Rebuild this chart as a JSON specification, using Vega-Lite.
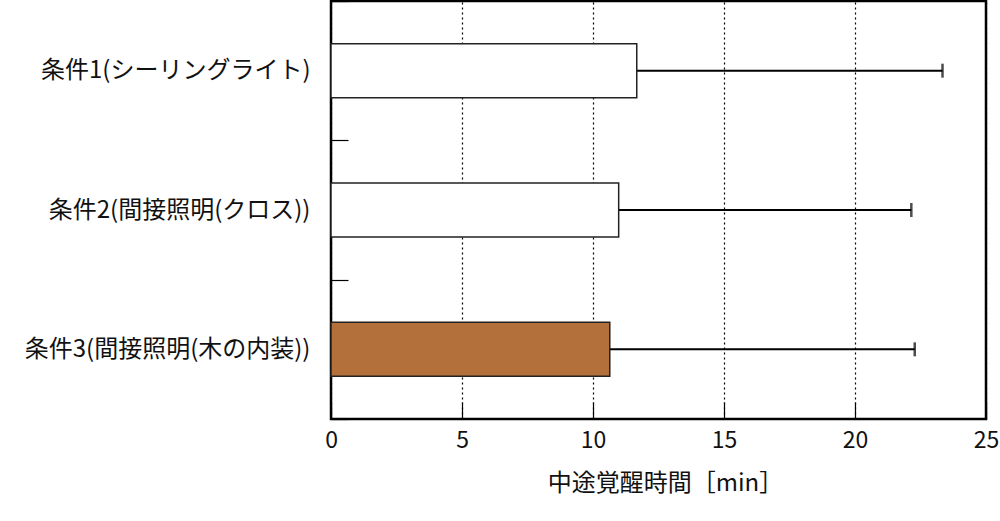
{
  "$schema": "https://vega.github.io/schema/vega-lite/v6.json",
  "autosize": "none",
  "width": 655,
  "height": 418,
  "padding": {"left": 331, "top": 1, "right": 14, "bottom": 102},
  "background": "#ffffff",
  "data": {
    "values": [
      {"cond": "条件1(シーリングライト)", "mean": 11.67, "upper": 23.34},
      {"cond": "条件2(間接照明(クロス))", "mean": 10.98, "upper": 22.15},
      {"cond": "条件3(間接照明(木の内装))", "mean": 10.64, "upper": 22.28}
    ]
  },
  "encoding": {
    "y": {
      "field": "cond", "type": "nominal", "sort": null, "title": null,
      "scale": {"paddingInner": 0, "paddingOuter": 0},
      "axis": {
        "domain": false, "tickBand": "extent", "tickSize": -17, "tickColor": "#000000", "tickWidth": 1.2,
        "labelFontSize": 24, "labelColor": "#111111", "labelPadding": 38, "labelLimit": 400
      }
    }
  },
  "layer": [
    {
      "mark": {"type": "rule", "stroke": "#000000", "strokeWidth": 2},
      "encoding": {
        "x": {"field": "mean", "type": "quantitative"},
        "x2": {"field": "upper"}
      }
    },
    {
      "mark": {"type": "tick", "orient": "vertical", "size": 14, "thickness": 2.5, "color": "#000000"},
      "encoding": {
        "x": {"field": "upper", "type": "quantitative"}
      }
    },
    {
      "mark": {"type": "bar", "size": 54, "stroke": "#222222", "strokeWidth": 1.5},
      "encoding": {
        "x": {
          "field": "mean", "type": "quantitative",
          "scale": {"domain": [0, 25], "nice": false},
          "title": "中途覚醒時間［min］",
          "axis": {
            "values": [0, 5, 10, 15, 20, 25], "domain": false, "labelFlush": false,
            "grid": true, "gridDash": [2, 3], "gridColor": "#000000", "gridWidth": 1.2, "gridOpacity": 1,
            "tickSize": -17, "tickColor": "#000000", "tickWidth": 1.2,
            "labelFontSize": 23, "labelColor": "#111111", "labelPadding": 27,
            "titleFontSize": 24, "titleFontWeight": "normal", "titleColor": "#111111", "titlePadding": 19,
            "titleX": 334, "titleAlign": "center"
          }
        },
        "fill": {
          "field": "cond", "type": "nominal", "sort": null, "legend": null,
          "scale": {"range": ["#ffffff", "#ffffff", "#b3703a"]}
        }
      }
    }
  ],
  "config": {
    "font": "Noto Sans CJK JP",
    "view": {"stroke": "#000000", "strokeWidth": 2.5}
  }
}
